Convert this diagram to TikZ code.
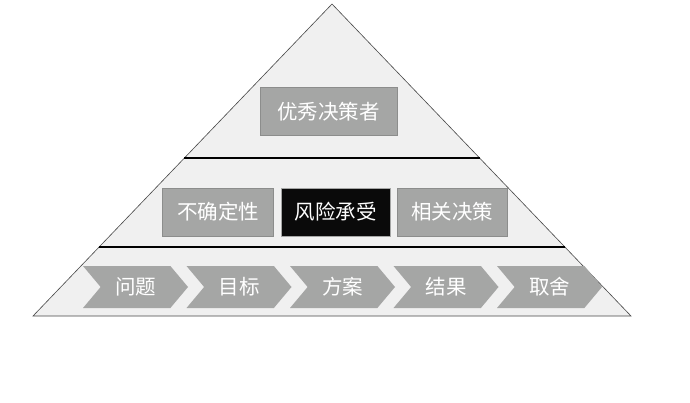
\documentclass[tikz,border=0pt]{standalone}
\usepackage{fontspec}
\newfontfamily\cjk{Noto Sans CJK SC}
\usepackage{tikz}
\usetikzlibrary{positioning, calc, shapes.symbols}
\usepackage{xcolor}
\definecolor{pyrfill}{RGB}{240,240,240}
\definecolor{pyredge}{RGB}{70,70,70}
\definecolor{boxgray}{RGB}{165,166,165}
\definecolor{boxblack}{RGB}{10,10,10}

\tikzset{
  card/.style={fill=boxgray, draw=boxgray!85!black, line width=0.4pt, text=white,
    inner sep=0pt, minimum height=48pt, font=\cjk\fontsize{20.5}{24}\selectfont},
  chev/.style={signal, signal from=west, signal to=east, signal pointer angle=100,
    fill=boxgray, text=white, inner sep=0pt, minimum width=105pt, minimum height=42pt,
    font=\cjk\fontsize{20.5}{24}\selectfont},
  sep/.style={line width=1.6pt, black}
}

\begin{document}
\begin{tikzpicture}[x=1pt, y=-1pt]
  \useasboundingbox[fill=white] (0,0) rectangle (690,403);
  \coordinate (apex) at (332,4);
  \coordinate (bl) at (33,316);
  \coordinate (br) at (631,316);
  \fill[pyrfill] (apex) -- (br) -- (bl) -- cycle;
  \draw[pyredge, line width=0.6pt] (apex) -- (br) -- (bl) -- cycle;
  % the two bands
  \draw[sep] ($(apex)!0.4936!(bl)$) -- ($(apex)!0.4936!(br)$);
  \draw[sep] ($(apex)!0.779!(bl)$) -- ($(apex)!0.779!(br)$);

  \node[card, minimum width=137pt] (top) at (328.5,111.5) {优秀决策者};

  \node[card, fill=boxblack, draw=boxgray, minimum width=109pt] (risk) at (335.5,212) {风险承受};
  \node[card, minimum width=111pt, left=7pt of risk] (unc) {不确定性};
  \node[card, minimum width=110pt, right=7pt of risk] (rel) {相关决策};

  \foreach \t [count=\i] in {问题,目标,方案,结果,取舍}
    \node[chev] (c\i) at ({32+103.5*\i},287) {\t};
\end{tikzpicture}
\end{document}
